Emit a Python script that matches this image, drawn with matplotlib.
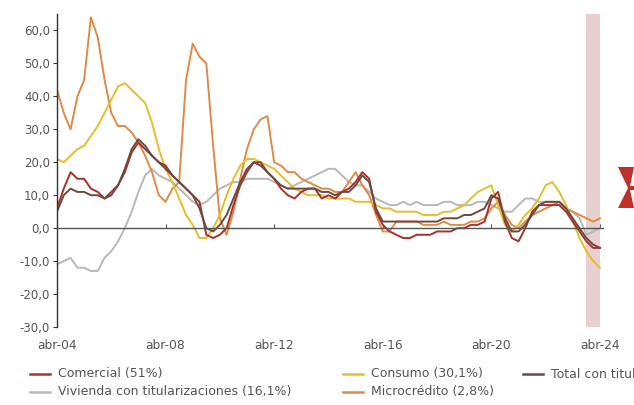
import numpy as np
import pandas as pd
import matplotlib
matplotlib.use("Agg")
import matplotlib.pyplot as plt
from matplotlib.patches import Polygon

# Variación anual real de la cartera por modalidad (%), datos trimestrales abr-04 a abr-24
fechas = pd.date_range("2004-04-01", "2024-04-01", freq="3MS")

comercial = [6, 12, 17, 15, 15, 12, 11, 9, 11, 13, 17, 23, 26, 24, 22, 20, 19, 16, 14, 12,
             10, 8, -2, -3, -2, 0, 7, 13, 17, 20, 20, 17, 15, 12, 10, 9, 11, 12, 12, 9,
             10, 9, 11, 12, 14, 17, 15, 5, 1, -1, -2, -3, -3, -2, -2, -2, -1, -1, -1, 0,
             0, 1, 1, 2, 9, 11, 2, -3, -4, 0, 5, 7, 7, 7, 7, 5, 2, -1, -4, -6, -6]

consumo = [21, 20, 22, 24, 25, 28, 31, 35, 39, 43, 44, 42, 40, 38, 32, 24, 18, 14, 9, 4,
           1, -3, -3, 0, 4, 10, 15, 19, 21, 21, 20, 19, 18, 16, 14, 12, 11, 10, 10, 10,
           9, 9, 9, 9, 8, 8, 8, 7, 6, 6, 5, 5, 5, 5, 4, 4, 4, 5, 5, 6,
           7, 9, 11, 12, 13, 7, 1, -1, 1, 4, 6, 9, 13, 14, 11, 7, 2, -3, -7, -10, -12]

total = [5, 10, 12, 11, 11, 10, 10, 9, 10, 13, 18, 24, 27, 25, 22, 20, 18, 16, 14, 12,
         10, 6, 0, -1, 1, 4, 9, 14, 18, 20, 19, 17, 15, 13, 12, 12, 12, 12, 12, 11,
         11, 10, 11, 11, 13, 16, 14, 6, 2, 2, 2, 2, 2, 2, 2, 2, 2, 3, 3, 3,
         4, 4, 5, 6, 10, 9, 3, -1, -1, 1, 4, 7, 8, 8, 8, 6, 3, 0, -3, -5, -6]

vivienda = [-11, -10, -9, -12, -12, -13, -13, -9, -7, -4, 0, 5, 11, 16, 18, 16, 15, 14, 12, 10,
            8, 7, 8, 10, 12, 13, 14, 14, 15, 15, 15, 15, 14, 13, 12, 13, 14, 15, 16, 17,
            18, 18, 16, 14, 13, 13, 11, 9, 8, 7, 7, 8, 7, 8, 7, 7, 7, 8, 8, 7,
            7, 7, 8, 8, 7, 6, 5, 5, 7, 9, 9, 8, 8, 8, 7, 6, 5, 3, -2, -1, 0]

microcredito = [42, 35, 30, 40, 45, 64, 58, 45, 35, 31, 31, 29, 26, 22, 17, 10, 8, 12, 14, 45,
                56, 52, 50, 25, 3, -2, 5, 15, 24, 30, 33, 34, 20, 19, 17, 17, 15, 14, 13, 12,
                12, 11, 11, 14, 17, 13, 10, 4, -1, -1, 2, 2, 2, 2, 1, 1, 1, 2, 1, 1,
                1, 2, 2, 3, 6, 8, 4, 1, 0, 2, 4, 5, 6, 7, 8, 6, 5, 4, 3, 2, 3]

series = [
    ("Comercial (51%)", comercial, "#a8322d"),
    ("Consumo (30,1%)", consumo, "#e6be2a"),
    ("Total con titularizaciones", total, "#6b4a40"),
    ("Vivienda con titularizaciones (16,1%)", vivienda, "#b8b8b8"),
    ("Microcrédito (2,8%)", microcredito, "#df8b47"),
]

ticks_x = pd.to_datetime(["2004-04-01", "2008-04-01", "2012-04-01",
                          "2016-04-01", "2020-04-01", "2024-04-01"])
labels_x = ["abr-04", "abr-08", "abr-12", "abr-16", "abr-20", "abr-24"]
ticks_y = [-30, -20, -10, 0, 10, 20, 30, 40, 50, 60]

gris = "#555555"
plt.rcParams["font.family"] = ["DejaVu Sans"]

fig = plt.figure(figsize=(6.34, 4.05), dpi=100)
ax = fig.add_axes([0.0899, 0.1926, 0.861, 0.7728])

# periodo sombreado al final de la serie
ax.axvspan(pd.Timestamp("2023-09-20"), pd.Timestamp("2024-04-01"),
           color="#e8d0d0", lw=0, zorder=0)

# orden de dibujo: las de fondo primero
for idx in [3, 4, 1, 0, 2]:
    nombre, vals, color = series[idx]
    ax.plot(fechas, vals, color=color, lw=1.4, zorder=2)

ax.set_xlim(pd.Timestamp("2004-04-01"), pd.Timestamp("2024-05-10"))
ax.set_ylim(-30, 65)

for s in ["top", "right"]:
    ax.spines[s].set_visible(False)
ax.spines["left"].set_color("#333333")
ax.spines["left"].set_linewidth(1.0)
ax.spines["bottom"].set_position(("data", 0))
ax.spines["bottom"].set_color(gris)
ax.spines["bottom"].set_linewidth(1.0)

ax.set_yticks(ticks_y)
ax.set_yticklabels([f"{v:.1f}".replace(".", ",") for v in ticks_y])
ax.tick_params(axis="y", length=3, width=0.8, color="#333333", pad=2,
               labelsize=8.5, labelcolor=gris)

ax.set_xticks(ticks_x)
ax.set_xticklabels([])
ax.tick_params(axis="x", direction="in", length=3, width=0.8, color=gris)

# etiquetas del eje de tiempo debajo del área del gráfico
sec = ax.secondary_xaxis(0)
sec.set_xticks(ticks_x)
sec.set_xticklabels(labels_x)
sec.spines["bottom"].set_visible(False)
sec.tick_params(length=0, pad=9, labelsize=8.8, labelcolor=gris)

# leyenda manual en dos filas
leg_pos = {0: (30, 374), 1: (343, 374), 2: (523, 374), 3: (30, 392), 4: (343, 392)}
W, H = 634, 405
for idx, (x0, y0) in leg_pos.items():
    nombre, vals, color = series[idx]
    fy = 1 - y0 / H
    fig.add_artist(plt.Line2D([x0 / W, (x0 + 20) / W], [fy, fy],
                              color=color, lw=1.8, transform=fig.transFigure))
    fig.text((x0 + 28) / W, fy, nombre, fontsize=9, color=gris,
             va="center", ha="left")

# marcador rojo recortado en el borde derecho
marca = [(618, 167), (634, 167), (630, 186), (634, 186), (634, 190), (630, 190),
         (634, 208), (618, 208), (628, 188)]
fig.add_artist(Polygon([(x / W, 1 - y / H) for x, y in marca], closed=True,
                       fc="#c0302a", ec="none", transform=fig.transFigure))

fig.savefig("out.png", dpi=100)
